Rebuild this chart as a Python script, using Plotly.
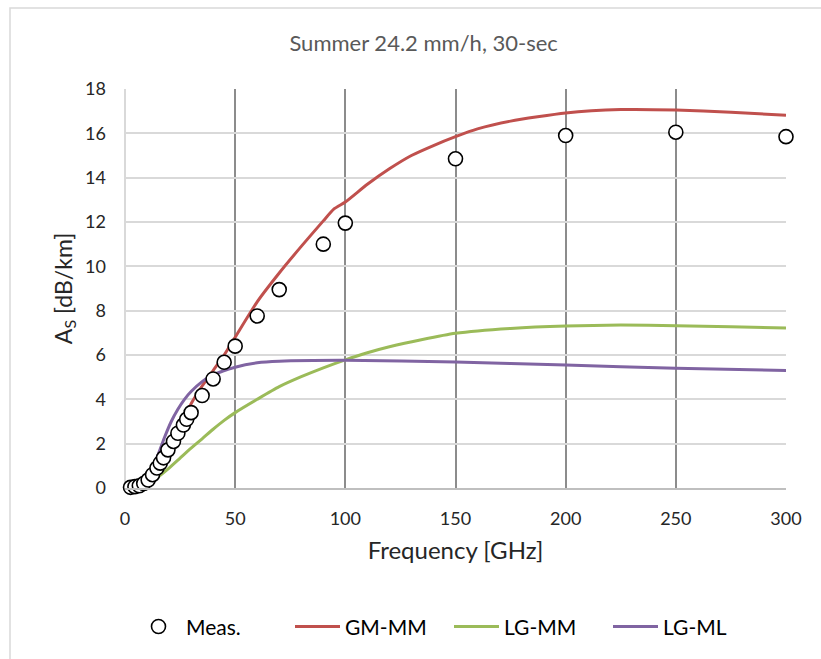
import plotly.graph_objects as go

# Measured points
meas_f = [2.5, 4.5, 6.5, 8.5, 10.5, 12.5, 14.5, 16, 17.5, 19.5, 22, 24, 26.5, 28, 30,
          35, 40, 45, 50, 60, 70, 90, 100, 150, 200, 250, 300]
meas_a = [0.03, 0.06, 0.1, 0.2, 0.36, 0.6, 0.9, 1.12, 1.36, 1.72, 2.1, 2.47, 2.84, 3.1, 3.4,
          4.17, 4.92, 5.67, 6.4, 7.76, 8.95, 11.0, 11.95, 14.85, 15.9, 16.05, 15.85]

# GM-MM model
gm_f = [1, 5, 10, 15, 20, 25, 30, 35, 40, 45, 50, 60, 70, 80, 90, 95, 100, 110, 120,
        130, 140, 150, 160, 175, 200, 225, 250, 275, 300]
gm_a = [0.0, 0.08, 0.35, 1.0, 1.85, 2.8, 3.8, 4.6, 5.3, 6.0, 6.8, 8.4, 9.7, 10.9, 12.05,
        12.6, 12.9, 13.7, 14.4, 15.0, 15.45, 15.85, 16.2, 16.55, 16.92, 17.07, 17.05, 16.95, 16.82]

# LG-MM model
lgmm_f = [1, 5, 10, 12, 15, 20, 25, 30, 35, 40, 45, 50, 60, 70, 80, 90, 100, 110, 120,
          135, 150, 175, 200, 225, 250, 275, 300]
lgmm_a = [0.0, 0.05, 0.15, 0.3, 0.5, 0.9, 1.35, 1.8, 2.22, 2.65, 3.05, 3.4, 4.0, 4.57, 5.02,
          5.42, 5.78, 6.1, 6.37, 6.7, 6.98, 7.2, 7.31, 7.35, 7.32, 7.28, 7.22]

# LG-ML model
lgml_f = [1, 5, 8, 10, 12, 15, 18, 21, 24, 27, 30, 35, 40, 50, 60, 70, 100, 150, 200, 250, 300]
lgml_a = [0.0, 0.1, 0.3, 0.55, 0.9, 1.5, 2.3, 3.0, 3.55, 4.0, 4.35, 4.8, 5.1, 5.45, 5.65,
          5.72, 5.76, 5.68, 5.55, 5.4, 5.3]

x_ticks = [0, 50, 100, 150, 200, 250, 300]
y_ticks = [0, 2, 4, 6, 8, 10, 12, 14, 16, 18]

FONT = "Lato, sans-serif"

fig = go.Figure()
fig.add_trace(go.Scatter(x=gm_f, y=gm_a, mode="lines", name="GM-MM", legendrank=2,
                         line=dict(color="#C0504D", width=3, shape="spline", smoothing=0.6)))
fig.add_trace(go.Scatter(x=lgmm_f, y=lgmm_a, mode="lines", name="LG-MM", legendrank=3,
                         line=dict(color="#9BBB59", width=3, shape="spline", smoothing=0.6)))
fig.add_trace(go.Scatter(x=lgml_f, y=lgml_a, mode="lines", name="LG-ML", legendrank=4,
                         line=dict(color="#8064A2", width=3, shape="spline", smoothing=0.6)))
fig.add_trace(go.Scatter(x=meas_f, y=meas_a, mode="markers", name="Meas.", legendrank=1,
                         cliponaxis=False,
                         marker=dict(symbol="circle", size=14, color="white",
                                     line=dict(color="black", width=1.6))))

fig.update_layout(
    width=821, height=659,
    margin=dict(l=125, r=35, t=89, b=171),
    paper_bgcolor="white", plot_bgcolor="white",
    font=dict(family=FONT, color="#262626"),
    title=dict(text="Summer 24.2 mm/h, 30-sec", x=0.516, xanchor="center",
               y=1 - 43 / 659, yanchor="middle",
               font=dict(size=22, color="#595959", family=FONT)),
    showlegend=True,
    legend=dict(orientation="h", x=(131 - 125) / 661, xanchor="left",
                y=-0.348, yanchor="middle",
                font=dict(size=21, color="#000000", family=FONT),
                itemwidth=45, entrywidth=99),
    xaxis=dict(range=[0, 300], tickvals=x_ticks, ticks="", showgrid=True,
               gridcolor="#8c8c8c", gridwidth=1.5,
               zeroline=True, zerolinecolor="#d9d9d9", zerolinewidth=1.5,
               showline=True, linecolor="#bfbfbf", linewidth=1.5,
               tickfont=dict(size=18, color="#262626"),
               ticklabelstandoff=14,
               title=dict(text="Frequency [GHz]", font=dict(size=24, color="#262626"), standoff=14)),
    yaxis=dict(range=[0, 18], tickvals=y_ticks, ticks="", showgrid=True,
               gridcolor="#d9d9d9", gridwidth=1.5, zeroline=False,
               showline=False,
               tickfont=dict(size=18, color="#262626"),
               ticklabelstandoff=18,
               title=dict(text="A<sub>S</sub> [dB/km]", font=dict(size=23, color="#262626"), standoff=6)),
)

# outer chart frame
fig.add_shape(type="rect", xref="paper", yref="paper",
              x0=(10 - 125) / 661, x1=(840 - 125) / 661,
              y0=(488 - 680) / 399, y1=1 + (89 - 8) / 399,
              line=dict(color="#d9d9d9", width=1.5), fillcolor="rgba(0,0,0,0)", layer="below")

fig.write_html("out.html")
